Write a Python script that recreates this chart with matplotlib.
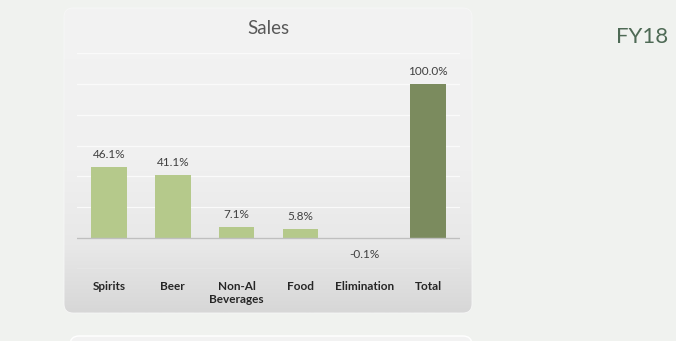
import numpy as np
import matplotlib.pyplot as plt
from matplotlib.colors import LinearSegmentedColormap
from matplotlib.patches import FancyBboxPatch

# データ
categories = ['Spirits', 'Beer', 'Non-Al\nBeverages', 'Food', 'Elimination', 'Total']
values = [46.1, 41.1, 7.1, 5.8, -0.1, 100.0]
labels = ['46.1%', '41.1%', '7.1%', '5.8%', '-0.1%', '100.0%']
bar_colors = ['#b5c98b', '#b5c98b', '#b5c98b', '#b5c98b', '#b5c98b', '#7b8b5e']

W, H = 676, 341
plt.rcParams['font.family'] = ['Lato', 'DejaVu Sans']

fig = plt.figure(figsize=(W/100, H/100), dpi=100)
fig.patch.set_facecolor('#f0f2ef')

# 背景カード（グラデーション）
bg = fig.add_axes([0, 0, 1, 1])
bg.set_xlim(0, W)
bg.set_ylim(H, 0)
bg.axis('off')

card = FancyBboxPatch((64, 8), 408, 305, boxstyle='round,pad=0,rounding_size=9',
                      facecolor='none', edgecolor='#f7f7f7', lw=0.6, zorder=2)
bg.add_patch(card)
cmap = LinearSegmentedColormap.from_list(
    'g', [(0, '#f3f3f3'), (0.5, '#f0f0f0'), (0.78, '#e8e8e8'), (1, '#d7d7d7')])
grad = np.linspace(0, 1, 256).reshape(-1, 1)
im = bg.imshow(grad, extent=(64, 472, 313, 8), cmap=cmap, aspect='auto', zorder=1)
im.set_clip_path(card)

card2 = FancyBboxPatch((70, 336), 402, 20, boxstyle='round,pad=0,rounding_size=9',
                       facecolor='#f2f2f2', edgecolor='white', lw=1.0, zorder=1)
bg.add_patch(card2)

bg.text(268, 28, 'Sales', ha='center', va='center', fontsize=13.5, color='#595959')
bg.text(668, 37, 'FY18', ha='right', va='center', fontsize=16, color='#4e6a55')

# 棒グラフ
ax = fig.add_axes([77/W, 1 - 269/H, 383/W, (269 - 53)/H])
ax.patch.set_alpha(0)
x = np.arange(len(categories))
ax.bar(x, values, width=0.56, color=bar_colors, zorder=3)
ax.set_xlim(-0.5, len(categories) - 0.5)
ax.set_ylim(-20, 120)
ax.set_yticks(np.arange(-20, 121, 20))
ax.yaxis.grid(True, color='#fafafa', lw=0.9, zorder=0)
ax.axhline(0, color='#bfbfbf', lw=1, zorder=4)
for s in ax.spines.values():
    s.set_visible(False)
ax.tick_params(left=False, labelleft=False, bottom=False)
ax.set_xticks(x)
ax.set_xticklabels(categories, fontsize=8.5, fontweight='bold', color='#262626', va='top')
ax.tick_params(axis='x', pad=5)

for xi, v, lab in zip(x, values, labels):
    if v >= 0:
        ax.annotate(lab, (xi, v), xytext=(0, 5), textcoords='offset points',
                    ha='center', va='bottom', fontsize=8.5, color='#404040')
    else:
        ax.annotate(lab, (xi, v), xytext=(0, -8), textcoords='offset points',
                    ha='center', va='top', fontsize=8.5, color='#404040')

fig.savefig('out.png', dpi=100, facecolor=fig.get_facecolor())
